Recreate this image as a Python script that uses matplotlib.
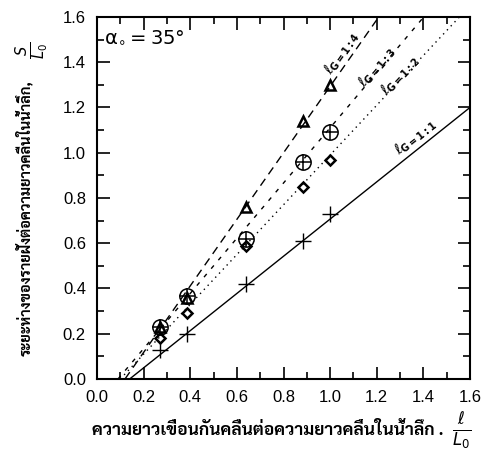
import numpy as np
import matplotlib
matplotlib.use("Agg")
import matplotlib.pyplot as plt
from matplotlib.ticker import MultipleLocator

plt.rcParams['font.family'] = ['Liberation Sans', 'DejaVu Sans']
plt.rcParams['mathtext.fontset'] = 'dejavusans'
THAI = ['Sarabun', 'Noto Sans Thai', 'DejaVu Sans']

# relative breakwater length l/L0 for each test run
x_runs = [0.27, 0.385, 0.64, 0.885, 1.0]

# salient distance S/L0 for each gap ratio
s_g11 = [0.13, 0.20, 0.42, 0.61, 0.73]
s_g12 = [0.18, 0.29, 0.59, 0.85, 0.97]
s_g13 = [0.23, 0.367, 0.62, 0.96, 1.09]
s_g14 = [0.23, 0.36, 0.76, 1.14, 1.30]

# fitted lines: x-intercept and slope
fit_labels = ['1:1', '1:2', '1:3', '1:4']
fit_x0 = [0.14, 0.10, 0.09, 0.12]
fit_slope = [0.822, 1.10, 1.22, 1.47]
fit_styles = ['-', (0, (1, 3)), (0, (3, 5)), (0, (6, 4))]
label_pos = [(1.365, 1.07), (1.30, 1.34), (1.20, 1.38), (1.05, 1.44)]

fig = plt.figure(figsize=(4.86, 4.59), dpi=100)
ax = fig.add_axes([0.1996, 0.1743, 0.7675, 0.7887])
ax.set_xlim(0, 1.6)
ax.set_ylim(0, 1.6)

for x0, k, ls, lab, (lx, ly) in zip(fit_x0, fit_slope, fit_styles, fit_labels, label_pos):
    xe = min(1.6, x0 + 1.6 / k)
    xs = np.array([x0, xe])
    ax.plot(xs, k * (xs - x0), color='black', lw=1.0, ls=ls)
    ang = np.degrees(np.arctan(k * (0.7887 * 4.59) / (0.7675 * 4.86)))
    ax.text(lx, ly, r'$\ell_{\mathbf{G=' + lab + '}}$', fontsize=10, rotation=ang,
            ha='center', va='center', rotation_mode='anchor')

ax.plot(x_runs, s_g11, ls='none', marker='+', ms=11, mew=1.0, color='black')
ax.plot(x_runs, s_g12, ls='none', marker='D', ms=5.5, mew=1.8, mfc='none', mec='black')
ax.plot(x_runs, s_g13, ls='none', marker='o', ms=11, mew=1.1, mfc='none', mec='black')
ax.plot(x_runs, s_g13, ls='none', marker='+', ms=11, mew=1.1, color='black')
ax.plot(x_runs, s_g14, ls='none', marker='^', ms=7, mew=1.8, mfc='none', mec='black')

ax.text(0.03, 1.505, r'$\mathrm{\alpha_{\circ}=35\degree}$', fontsize=14, ha='left', va='center')

ax.xaxis.set_major_locator(MultipleLocator(0.2))
ax.xaxis.set_minor_locator(MultipleLocator(0.1))
ax.yaxis.set_major_locator(MultipleLocator(0.2))
ax.yaxis.set_minor_locator(MultipleLocator(0.1))
ax.xaxis.set_major_formatter(lambda v, p: f'{v:.1f}')
ax.yaxis.set_major_formatter(lambda v, p: f'{v:.1f}')
ax.tick_params(which='both', direction='in', top=True, right=True, width=1.2,
               labelsize=12, color='black')
ax.tick_params(which='major', length=9, pad=8)
ax.tick_params(which='minor', length=5)
for sp in ax.spines.values():
    sp.set_linewidth(1.5)

fig.text(0.55, 0.063, 'ความยาวเขื่อนกันคลื่นต่อความยาวคลื่นในน้ำลึก .',
         family=THAI, fontsize=12.5, fontweight='bold', ha='center', va='center')
fig.text(0.95, 0.063, r'$\frac{\ell}{L_0}$', fontsize=17, ha='center', va='center')

fig.text(0.05, 0.525, 'ระยะห่างของรายฝั่งต่อความยาวคลื่นในน้ำลึก,',
         family=THAI, fontsize=10.5, fontweight='bold', rotation=90,
         ha='center', va='center')
fig.text(0.066, 0.89, r'$\frac{S}{L_0}$', fontsize=15, rotation=90,
         ha='center', va='center')

fig.savefig('out.png', dpi=100)
